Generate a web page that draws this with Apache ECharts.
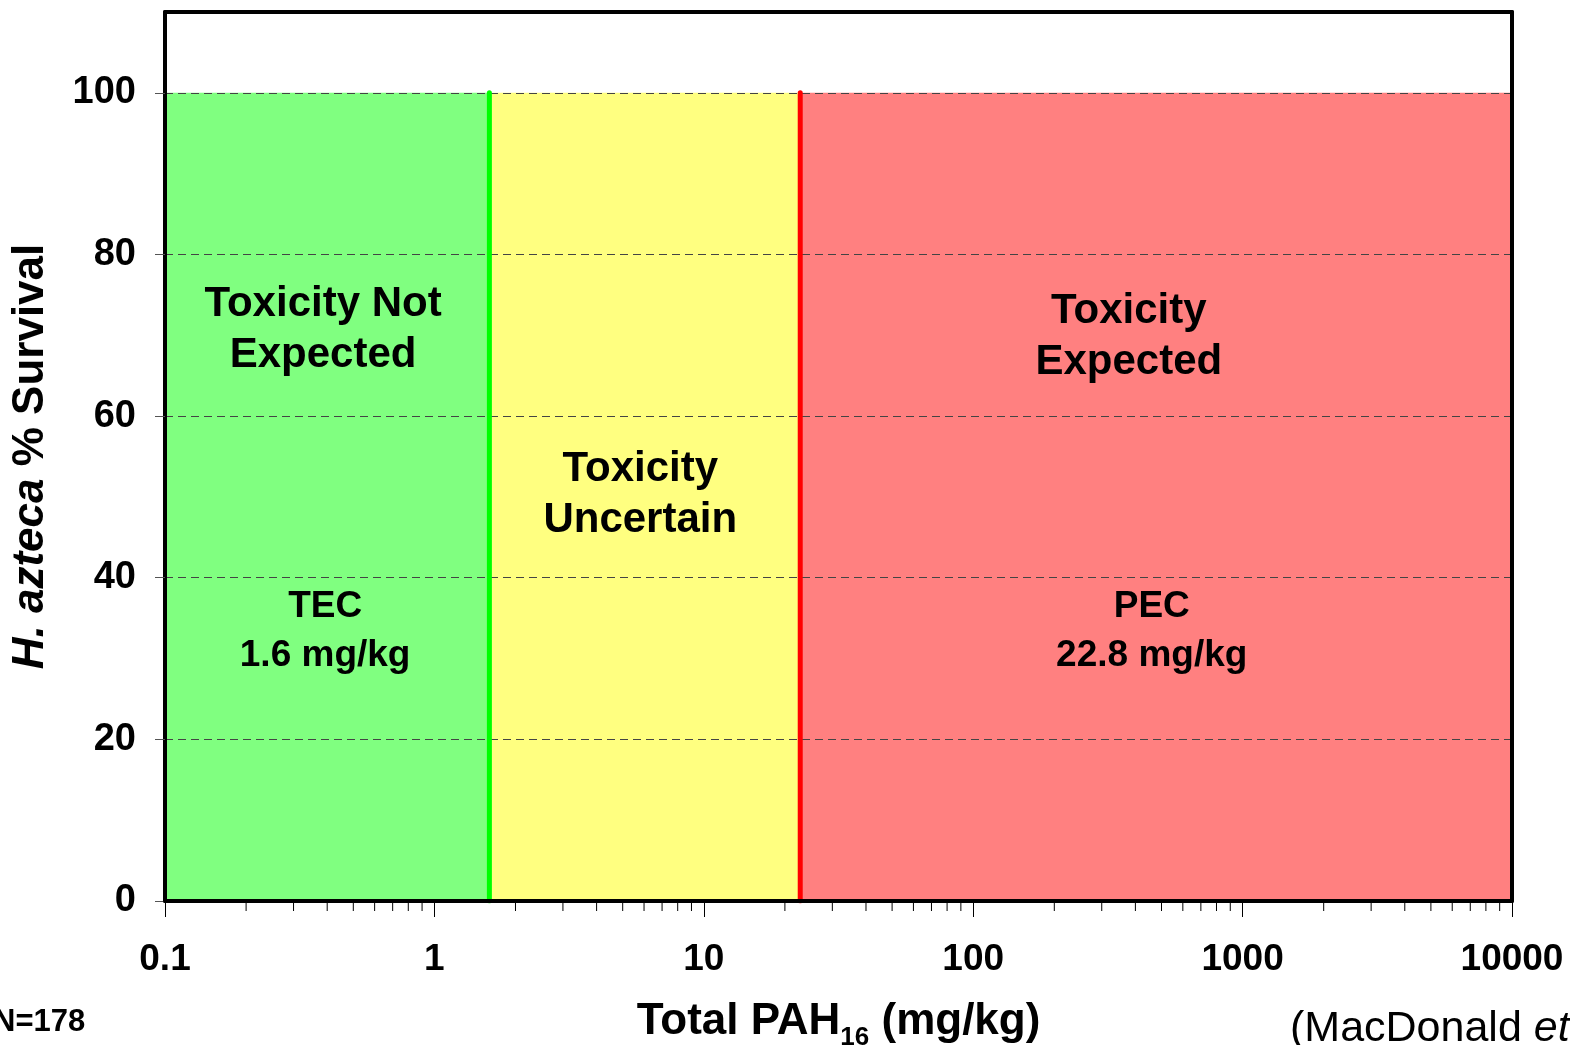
<!DOCTYPE html>
<html>
<head>
<meta charset="utf-8">
<script src="https://cdn.jsdelivr.net/npm/echarts@6/dist/echarts.min.js"></script>
<style>
  html, body { margin: 0; padding: 0; background: #ffffff; }
  #chart { width: 1570px; height: 1045px; }
</style>
</head>
<body>
<div id="chart"></div>
<script>
// Sediment quality guidelines for total PAH16 (mg/kg) versus H. azteca survival
const TEC = 1.6;     // threshold effect concentration
const PEC = 22.8;    // probable effect concentration
const X_MIN = 0.1;
const X_MAX = 10000;
const Y_MIN = 0;
const Y_MAX = 110;
const ZONE_TOP = 100;

// Three concentration bands
const zoneStarts = [X_MIN, TEC, PEC];
const zoneEnds = [TEC, PEC, X_MAX];
const zoneColors = ['#80FF80', '#FFFF80', '#FF8080'];

// Axis ticks
const yTicks = [0, 20, 40, 60, 80, 100];
const minorSteps = [2, 3, 4, 5, 6, 7, 8, 9];
const decadeStarts = [0.1, 1, 10, 100, 1000];

// Annotations inside the bands (text, x in mg/kg, y in % survival)
const noteTexts = [
  'Toxicity Not\nExpected',
  'Toxicity\nUncertain',
  'Toxicity\nExpected',
  'TEC\n' + TEC + ' mg/kg',
  'PEC\n' + PEC + ' mg/kg'
];
const noteX = [0.386, 5.81, 378, 0.393, 460];
const noteY = [70.7, 50.2, 69.8, 33.4, 33.4];
const noteSizes = [42, 42, 42, 37, 37];
const noteLineHeights = [51, 51, 51, 49, 49];

const FONT = '"Liberation Sans", Arial, sans-serif';

// minor tick positions on the log axis
const minorTickValues = [];
decadeStarts.forEach(function (d) {
  minorSteps.forEach(function (s) { minorTickValues.push([+(d * s).toPrecision(6), 0]); });
});

const chart = echarts.init(document.getElementById('chart'), null, { renderer: 'canvas' });

const option = {
  animation: false,
  backgroundColor: '#ffffff',
  grid: { left: 165, right: 58, top: 12, bottom: 144, containLabel: false, outerBoundsMode: 'none' },
  xAxis: [
    {
      type: 'log',
      logBase: 10,
      min: X_MIN,
      max: X_MAX,
      position: 'bottom',
      z: 6,
      axisLine: { show: true, onZero: false, lineStyle: { color: '#000', width: 4 } },
      axisTick: { show: true, length: 16, lineStyle: { color: '#000', width: 1 } },
      minorTick: { show: false },
      splitLine: { show: false },
      axisLabel: {
        color: '#000', fontSize: 37, fontWeight: 'bold', fontFamily: FONT, margin: 40,
        formatter: function (v) { return String(v); }
      },
      name: 'Total PAH{sub|16} (mg/kg)',
      nameLocation: 'middle',
      nameGap: 92,
      nameTextStyle: {
        color: '#000', fontSize: 44, fontWeight: 'bold', fontFamily: FONT, lineHeight: 58,
        rich: {
          sub: { fontSize: 26, fontWeight: 'bold', fontFamily: FONT, color: '#000', lineHeight: 25, verticalAlign: 'bottom' }
        }
      }
    },
    {
      type: 'log',
      logBase: 10,
      min: X_MIN,
      max: X_MAX,
      position: 'top',
      z: 6,
      axisLine: { show: true, onZero: false, lineStyle: { color: '#000', width: 4 } },
      axisTick: { show: false },
      axisLabel: { show: false },
      splitLine: { show: false }
    }
  ],
  yAxis: [
    {
      type: 'value',
      min: Y_MIN,
      max: Y_MAX,
      interval: 20,
      position: 'left',
      z: 3,
      axisLine: { show: true, onZero: false, lineStyle: { color: '#000', width: 4 } },
      axisTick: { show: true, length: 10, customValues: yTicks, lineStyle: { color: '#555', width: 1 } },
      splitLine: { show: true, lineStyle: { color: '#444', width: 1, type: [8, 5] } },
      axisLabel: {
        customValues: yTicks,
        color: '#000', fontSize: 38, fontWeight: 'bold', fontFamily: FONT, margin: 29
      },
      name: '{i|H. azteca} % Survival',
      nameLocation: 'middle',
      nameRotate: 90,
      nameGap: 112,
      nameTextStyle: {
        color: '#000', fontSize: 44, fontWeight: 'bold', fontFamily: FONT,
        rich: {
          i: { fontStyle: 'italic', fontSize: 44, fontWeight: 'bold', fontFamily: FONT, color: '#000' }
        }
      }
    },
    {
      type: 'value',
      min: Y_MIN,
      max: Y_MAX,
      position: 'right',
      z: 6,
      axisLine: { show: true, onZero: false, lineStyle: { color: '#000', width: 4 } },
      axisTick: { show: false },
      axisLabel: { show: false },
      splitLine: { show: false }
    }
  ],
  series: [
    {
      // coloured bands
      type: 'custom',
      name: 'zones',
      xAxisIndex: 0,
      yAxisIndex: 0,
      z: 1,
      silent: true,
      data: zoneStarts.map(function (s, i) { return [s, zoneEnds[i], ZONE_TOP]; }),
      encode: { x: [0, 1], y: 2 },
      renderItem: function (params, api) {
        const p0 = api.coord([api.value(0), 0]);
        const p1 = api.coord([api.value(1), api.value(2)]);
        return {
          type: 'rect',
          shape: { x: p0[0], y: p1[1], width: p1[0] - p0[0], height: p0[1] - p1[1] },
          style: { fill: zoneColors[params.dataIndex] }
        };
      }
    },
    {
      type: 'line',
      name: 'TEC',
      xAxisIndex: 0,
      yAxisIndex: 0,
      z: 5,
      silent: true,
      symbol: 'none',
      data: [[TEC, 0], [TEC, ZONE_TOP]],
      lineStyle: { color: '#00FF00', width: 5, cap: 'round' }
    },
    {
      type: 'line',
      name: 'PEC',
      xAxisIndex: 0,
      yAxisIndex: 0,
      z: 5,
      silent: true,
      symbol: 'none',
      data: [[PEC, 0], [PEC, ZONE_TOP]],
      lineStyle: { color: '#FF0000', width: 5, cap: 'round' }
    },
    {
      // minor ticks of the log axis
      type: 'custom',
      name: 'minorTicks',
      xAxisIndex: 0,
      yAxisIndex: 0,
      z: 6,
      clip: false,
      silent: true,
      data: minorTickValues,
      encode: { x: 0, y: 1 },
      renderItem: function (params, api) {
        const p = api.coord([api.value(0), 0]);
        return {
          type: 'line',
          shape: { x1: p[0], y1: p[1], x2: p[0], y2: p[1] + 10 },
          style: { stroke: '#000', lineWidth: 1 }
        };
      }
    },
    {
      // band annotations
      type: 'scatter',
      name: 'notes',
      xAxisIndex: 0,
      yAxisIndex: 0,
      z: 7,
      silent: true,
      symbolSize: 0,
      itemStyle: { opacity: 1 },
      data: noteTexts.map(function (t, i) {
        return {
          value: [noteX[i], noteY[i]],
          label: {
            show: true,
            position: 'inside',
            formatter: t,
            color: '#000',
            textBorderWidth: 0,
            fontSize: noteSizes[i],
            lineHeight: noteLineHeights[i],
            fontWeight: 'bold',
            fontFamily: FONT,
            align: 'center'
          }
        };
      })
    }
  ],
  graphic: [
    {
      type: 'text',
      z: 10,
      style: {
        text: 'N=178', x: -7, y: 1022, align: 'left', verticalAlign: 'middle',
        fontSize: 31, fontWeight: 'bold', fontFamily: FONT, fill: '#000'
      }
    },
    {
      type: 'text',
      z: 10,
      style: {
        text: '(MacDonald {i|et} al.',
        x: 1290, y: 1029, align: 'left', verticalAlign: 'middle',
        fontSize: 43, fontFamily: FONT, fill: '#000',
        rich: { i: { fontStyle: 'italic', fontSize: 43, fontFamily: FONT, fill: '#000' } }
      }
    }
  ]
};

chart.setOption(option);
</script>
</body>
</html>
